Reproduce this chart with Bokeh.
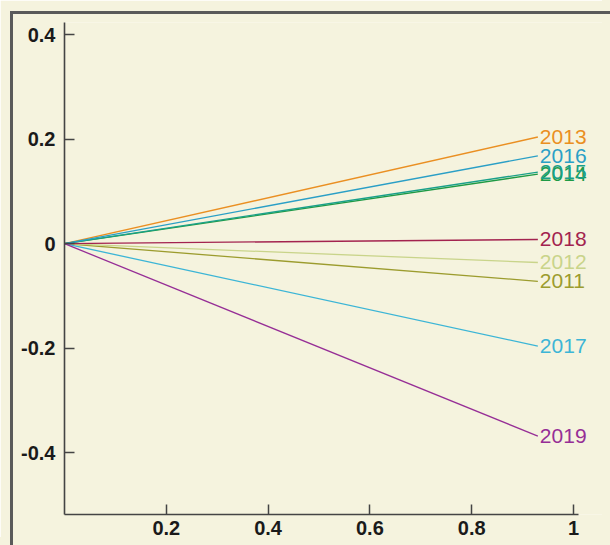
from bokeh.plotting import figure
from bokeh.models import ColumnDataSource, FixedTicker, InlineStyleSheet
from bokeh.core.properties import value
from bokeh.embed import file_html
from bokeh.resources import INLINE

years = ["2011", "2012", "2013", "2014", "2015", "2016", "2017", "2018", "2019"]
x_start = [0.0] * 9
x_end = [0.93] * 9
y_start = [0.0] * 9
y_end = [-0.072, -0.036, 0.204, 0.133, 0.137, 0.168, -0.196, 0.008, -0.368]
colors = ["#9c9c2e", "#c9d48a", "#ea8f22", "#1e9a45", "#1aa08a", "#2a9fc6",
          "#3cb5d6", "#a3234f", "#962e96"]
x_ticks = [0.2, 0.4, 0.6, 0.8, 1]
y_ticks = [-0.4, -0.2, 0, 0.2, 0.4]

BG = "#f5f3de"
FONT = "Liberation Sans"

p = figure(width=602, height=537, output_backend="svg", toolbar_location=None,
           x_range=(0, 1.057), y_range=(-0.518, 0.423),
           min_border_left=64, min_border_top=22, min_border_bottom=21,
           min_border_right=0)
p.background_fill_color = BG
p.border_fill_color = BG
p.outline_line_color = None
p.grid.visible = False

src = ColumnDataSource(dict(x0=x_start, y0=y_start, x1=x_end, y1=y_end,
                            year=years, color=colors))
p.segment("x0", "y0", "x1", "y1", source=src, line_color="color", line_width=1.3)
p.text("x1", "y1", text="year", source=src, text_color="color",
       text_font=value(FONT), text_font_size="21px", text_baseline="middle",
       text_align="left", x_offset=2)

for ax in (p.xaxis[0], p.yaxis[0]):
    ax.axis_line_color = "#444444"
    ax.axis_line_width = 1.6
    ax.major_tick_line_color = "#444444"
    ax.major_tick_line_width = 1.5
    ax.major_tick_in = 10
    ax.major_tick_out = 0
    ax.minor_tick_line_color = None
    ax.major_label_text_font = FONT
    ax.major_label_text_font_size = "20px"
    ax.major_label_text_font_style = "bold"
    ax.major_label_text_color = "#1a1a1a"

p.xaxis.ticker = FixedTicker(ticks=x_ticks)
p.yaxis.ticker = FixedTicker(ticks=y_ticks)
p.xaxis.bounds = (0, 1.01)
p.xaxis.major_label_overrides = {1: "1"}
p.yaxis.major_label_overrides = {0: "0", -0.2: "-0.2", -0.4: "-0.4"}
p.xaxis.major_label_standoff = 6
p.yaxis.major_label_standoff = 9

p.stylesheets = [InlineStyleSheet(css="""
:host { position: relative; box-shadow: 0 0 0 12px #f5f3de; }
:host::after {
  content: ""; position: absolute; left: 10px; top: 11px;
  width: 700px; height: 700px; box-sizing: border-box;
  border-left: 3px solid #5a5a5a; border-top: 3px solid #5a5a5a;
  pointer-events: none; z-index: 5;
}
""")]

open("out.html", "w").write(file_html(p, INLINE))
